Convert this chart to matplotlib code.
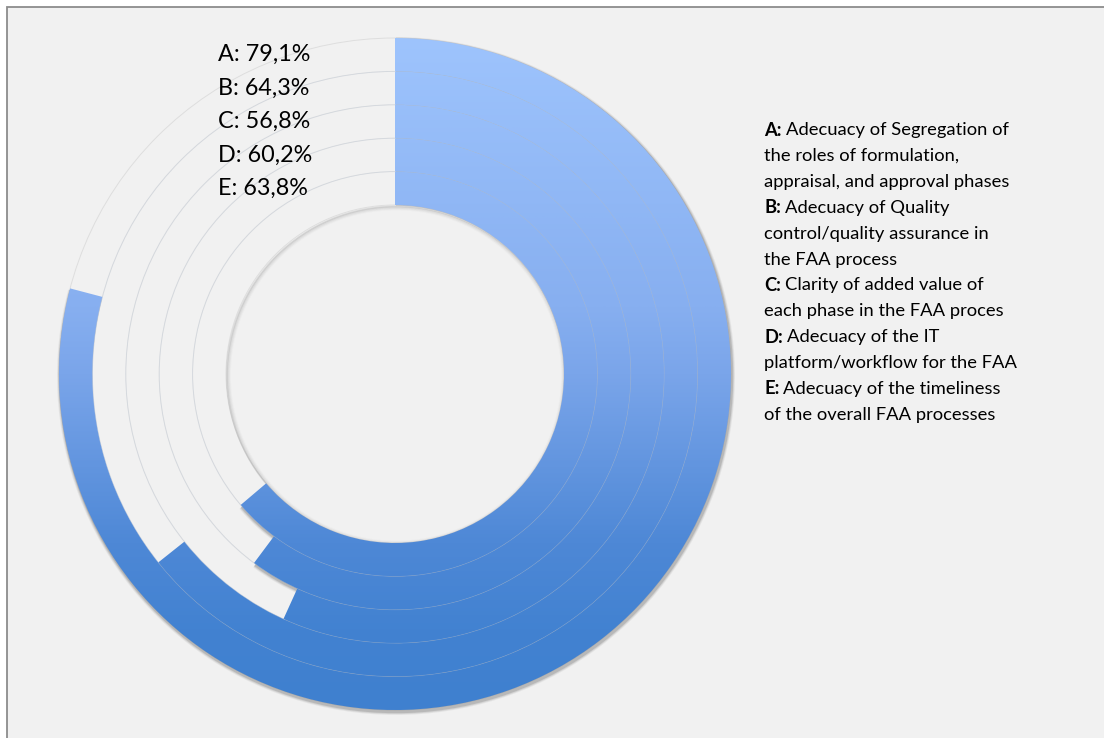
import numpy as np
import matplotlib
matplotlib.use('Agg')
import matplotlib.pyplot as plt
from matplotlib.patches import Wedge, Circle, Rectangle
from matplotlib.colors import LinearSegmentedColormap

# Survey results, one ring per item (A outermost)
letters = ['A', 'B', 'C', 'D', 'E']
values = [79.1, 64.3, 56.8, 60.2, 63.8]
descriptions = [
    ['Adecuacy of Segregation of', 'the roles of formulation,', 'appraisal, and approval phases'],
    ['Adecuacy of Quality', 'control/quality assurance in', 'the FAA process'],
    ['Clarity of added value of', 'each phase in the FAA proces'],
    ['Adecuacy of the IT', 'platform/workflow for the FAA'],
    ['Adecuacy of the timeliness', 'of the overall FAA processes'],
]

W, H = 1104, 738
fig = plt.figure(figsize=(W / 100, H / 100), dpi=100, facecolor='white')
ax = fig.add_axes([0, 0, 1, 1])
ax.set_xlim(0, W)
ax.set_ylim(0, H)
ax.axis('off')

font = 'Lato'

# chart area background with border on left/top
ax.add_patch(Rectangle((7, -10), W + 10, H - 7 + 10, facecolor='#f1f1f1',
                       edgecolor='#8c8c8c', linewidth=1.3, zorder=0))

cx, cy = 395, H - 374
r_out, r_in = 336, 169
ring_w = (r_out - r_in) / len(values)

# track circles
for i in range(len(values) + 1):
    r = r_out - i * ring_w
    ax.add_patch(Circle((cx, cy), r, fill=False, edgecolor='#dedede', linewidth=0.7, zorder=1))

# soft shadow under the filled rings
for k, a in zip([5, 3.5, 2], [0.05, 0.08, 0.12]):
    for i, v in enumerate(values):
        r = r_out - i * ring_w
        ax.add_patch(Wedge((cx + 1, cy - 2), r + k * 0.6, 90 - 3.6 * v, 90, width=ring_w,
                           facecolor='#000000', edgecolor='none', alpha=a, zorder=2))

# inner hole shadow
for k, a in zip([0, 1, 2, 3], [0.18, 0.10, 0.06, 0.03]):
    ax.add_patch(Circle((cx + 1, cy - 1.5), r_in - k, fill=False, edgecolor='#606060',
                        linewidth=1.2, alpha=a, zorder=2))

# vertical gradient used as fill: light at the top, darker lower down
cmap = LinearSegmentedColormap.from_list(
    'blues', [(0.0, '#9ec4fd'), (0.4, '#87aff0'), (0.5, '#7aa5ea'),
              (0.75, '#4e88d6'), (0.88, '#4282d1'), (1.0, '#3f80cf')])
ys = np.linspace(0, 1, 400)
grad = (1 - ys)[:, None] * np.ones((1, 10))   # 0 at the top, 1 at the bottom
extent = (cx - r_out - 2, cx + r_out + 2, cy - r_out - 2, cy + r_out + 2)

for i, v in enumerate(values):
    r = r_out - i * ring_w
    w = Wedge((cx, cy), r, 90 - 3.6 * v, 90, width=ring_w, facecolor='none',
              edgecolor='none', zorder=3)
    ax.add_patch(w)
    im = ax.imshow(grad, cmap=cmap, vmin=0, vmax=1, extent=extent, origin='lower',
                   aspect='auto', interpolation='bilinear', zorder=3)
    im.set_clip_path(w)

# faint separators between filled rings
for i in range(1, len(values)):
    r = r_out - i * ring_w
    ax.add_patch(Circle((cx, cy), r, fill=False, edgecolor='#b8c8de', linewidth=0.5,
                        alpha=0.3, zorder=4))

ax.set_xlim(0, W)
ax.set_ylim(0, H)

# value labels beside each ring
for i, (l, v) in enumerate(zip(letters, values)):
    y = r_out - (i + 0.5) * ring_w
    ax.text(218, cy + y, f'{l}: {v:.1f}%'.replace('.', ','), fontsize=16.8, family=font,
            va='center', ha='left', color='#000000', zorder=5)

# legend block on the right
renderer = fig.canvas.get_renderer()
x0, y0, lh = 764, H - 130, 25.9
fs = 13.2
line = 0
for l, desc in zip(letters, descriptions):
    for j, txt in enumerate(desc):
        y = y0 - line * lh
        if j == 0:
            t = ax.text(x0, y, f'{l}:', fontsize=fs, family=font, weight='bold',
                        va='center', ha='left', color='#000000')
            bb = t.get_window_extent(renderer)
            ax.text(bb.x1 + 4, y, txt, fontsize=fs, family=font, va='center',
                    ha='left', color='#000000')
        else:
            ax.text(x0, y, txt, fontsize=fs, family=font, va='center', ha='left',
                    color='#000000')
        line += 1

fig.savefig('out.png', dpi=100, facecolor='white')
